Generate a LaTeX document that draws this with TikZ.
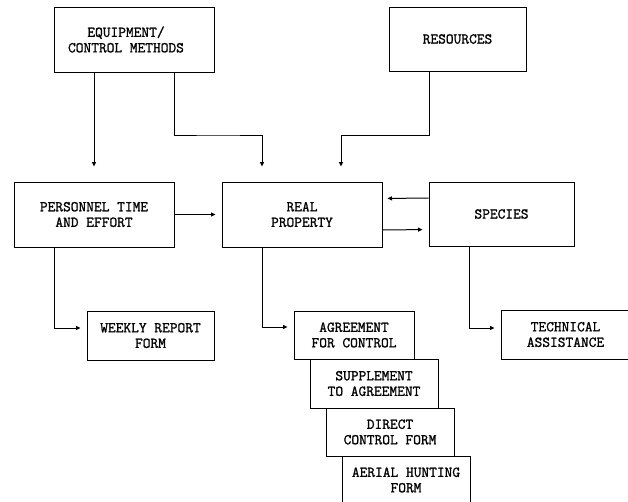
\documentclass[tikz,border=0pt]{standalone}
\usepackage{fontspec}
\setmonofont{Latin Modern Mono}[FakeBold=1.2]
\usetikzlibrary{arrows.meta}
\begin{document}
\begin{tikzpicture}[x=1pt,y=-1pt,
  box/.style={draw,line width=1pt,inner sep=0pt,align=center,font=\fontsize{15}{15.5}\selectfont\ttfamily},
  arr/.style={line width=1pt,-{Triangle[length=4.5pt,width=4pt]},shorten >=6pt},
  varr/.style={arr,shorten >=15pt}]
\clip (0,0) rectangle (628,501);
\fill[white] (0,0) rectangle (628,501);
\node[box,minimum width=160pt,minimum height=65pt] (eq) at (134,39.5) {\hspace*{-16pt}EQUIPMENT/\\\hspace*{-16pt}CONTROL METHODS};
\node[box,minimum width=137pt,minimum height=64pt] (res) at (457.5,39) {RESOURCES};
\node[box,minimum width=160pt,minimum height=65pt] (pers) at (94,214.5) {PERSONNEL TIME\\AND EFFORT};
\node[box,minimum width=160pt,minimum height=65pt] (real) at (302,214.5) {REAL\\PROPERTY};
\node[box,minimum width=145pt,minimum height=64pt] (spec) at (501.5,214) {SPECIES};
\node[box,minimum width=127pt,minimum height=49pt] (weekly) at (150.5,335.5) {WEEKLY REPORT\\FORM};
\node[box,minimum width=120pt,minimum height=48pt] (agree) at (354,335) {AGREEMENT\\FOR CONTROL};
\node[box,minimum width=128pt,minimum height=49pt] (supp) at (374,383.5) {SUPPLEMENT\\TO AGREEMENT};
\node[box,minimum width=128pt,minimum height=48pt] (direct) at (390,432) {DIRECT\\CONTROL FORM};
\node[box,minimum width=128pt,minimum height=48pt] (aerial) at (406,480) {AERIAL HUNTING\\FORM};
\node[box,minimum width=129pt,minimum height=49pt] (tech) at (565.5,334.5) {TECHNICAL\\ASSISTANCE};
% connectors
\draw[varr] (pers.north |- eq.south) -- (pers.north);
\draw[varr] ([xshift=40pt]eq.south) |- (218,135) -| ([xshift=-40pt]real.north);
\draw[varr] ([xshift=-28.5pt]res.south) |- (341,135) -| ([xshift=39pt]real.north);
\draw[arr] (pers.east) -- (real.west);
\draw[arr,shorten >=5pt] ([yshift=16pt]spec.west) -- ([yshift=16pt]real.east);
\draw[arr] ([yshift=-15.5pt]real.east) -- ([yshift=-15.5pt]spec.west);
\draw[arr] ([xshift=-40pt]pers.south) |- ([yshift=7.5pt]weekly.west);
\draw[arr] ([xshift=-40pt]real.south) |- ([yshift=8pt]agree.west);
\draw[arr] ([xshift=-32.5pt]spec.south) |- ([yshift=6.5pt]tech.west);
\end{tikzpicture}
\end{document}
